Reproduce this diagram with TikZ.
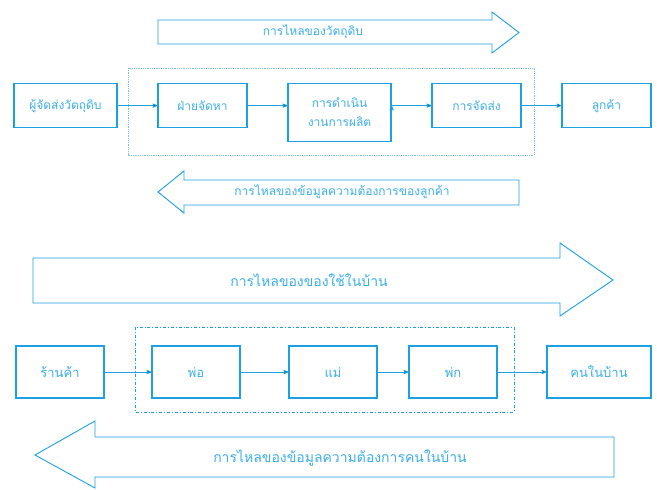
\documentclass[tikz,border=0pt]{standalone}
\usepackage{fontspec}
\newfontfamily\thaifont[Script=Thai]{Loma}
\usetikzlibrary{arrows}
\definecolor{flow_blue}{RGB}{27,160,226}
\definecolor{text_blue}{RGB}{60,175,232}
\definecolor{frame_blue}{RGB}{120,195,235}

\begin{document}
\begin{tikzpicture}[x=1pt,y=-1pt,->,>=stealth',thick]
    \tikzstyle{box}=[draw=flow_blue, line width=1.2pt, rectangle, fill=white, text=text_blue, font=\thaifont\fontsize{12}{15}\selectfont, align=center, inner sep=0pt]
    \tikzstyle{sbox}=[style=box, minimum width=89pt, minimum height=44pt, anchor=north]
    \tikzstyle{wbox}=[style=box, minimum width=103pt, minimum height=44pt, anchor=north]
    \tikzstyle{hbox}=[style=box, minimum width=88pt, minimum height=52pt, font=\thaifont\fontsize{13}{16}\selectfont]
    \tikzstyle{flow}=[draw=flow_blue, line width=0.9pt, fill=white, -]
    \tikzstyle{flowtext}=[text=text_blue, font=\thaifont\fontsize{12}{15}\selectfont]
    \tikzstyle{bigtext}=[text=text_blue, font=\thaifont\fontsize{14}{17}\selectfont]
    \tikzstyle{link}=[draw=flow_blue, line width=0.8pt]

    \useasboundingbox (0,0) rectangle (657,490);

    % flow of raw material
    \draw[flow] (158,20) -- (492,20) -- (492,12) -- (519,32.5) -- (492,53) -- (492,44) -- (158,44) -- cycle;
    \node[flowtext] (rawflow) at (313,32) {การไหลของวัตถุดิบ};

    % frame of the plant
    \draw[frame_blue, densely dotted, -] (128,68) rectangle (534,155);

    \node[wbox] (supplier) at (65.5,83)  {ผู้จัดส่งวัตถุดิบ};
    \node[sbox] (purchase) at (202.5,83) {ฝ่ายจัดหา};
    \node[wbox, minimum height=58pt] (produce) at (339.5,83) {การดำเนิน\\[4pt]งานการผลิต};
    \node[sbox] (deliver)  at (476.5,83) {การจัดส่ง};
    \node[sbox] (customer) at (606.5,83) {ลูกค้า};

    \path[link]
     (supplier) edge (purchase)
     (purchase.east) edge (purchase.east -| produce.west)
     (produce.east |- deliver.west) edge (deliver.west)
     (deliver) edge (customer)
     ;

    % flow of customer demand
    \draw[flow] (519,180) -- (184,180) -- (184,171) -- (158,192) -- (184,213) -- (184,205) -- (519,205) -- cycle;
    \node[flowtext] (infoflow) at (342,192) {การไหลของข้อมูลความต้องการของลูกค้า};

    % flow of household goods
    \draw[flow] (33,258) -- (560,258) -- (560,243) -- (613,280) -- (560,316) -- (560,303) -- (33,303) -- cycle;
    \node[bigtext] (goodsflow) at (309,280) {การไหลของของใช้ในบ้าน};

    % frame of the family
    \draw[flow_blue, dash dot, line width=1pt, -] (135,327) rectangle (514,412);

    \node[hbox] (shop)   at (60,372)  {ร้านค้า};
    \node[hbox] (father) at (196,372) {พ่อ};
    \node[hbox] (mother) at (333,372) {แม่};
    \node[hbox] (child)  at (453,372) {พ่ก};
    \node[hbox, minimum width=104pt] (family) at (599,372) {คนในบ้าน};

    \path[link]
     (shop) edge (father)
     (father) edge (mother)
     (mother) edge (child)
     (child) edge (family)
     ;

    % flow of household demand
    \draw[flow] (614,437) -- (95,437) -- (95,421) -- (35,455) -- (95,488) -- (95,477) -- (614,477) -- cycle;
    \node[bigtext] (needflow) at (340,458) {การไหลของข้อมูลความต้องการคนในบ้าน};
\end{tikzpicture}
\end{document}
